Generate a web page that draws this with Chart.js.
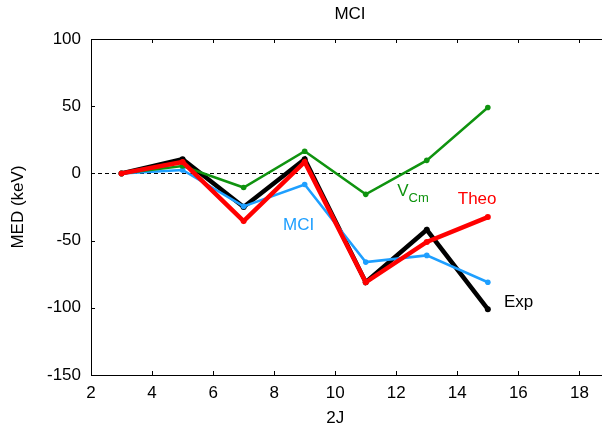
<!DOCTYPE html>
<html>
<head>
<meta charset="utf-8">
<script src="https://cdn.jsdelivr.net/npm/chart.js@4/dist/chart.umd.min.js"></script>
<style>
  html, body { margin: 0; padding: 0; background: #fff; }
  #wrap { width: 602px; height: 426px; position: relative; }
</style>
</head>
<body>
<div id="wrap"><canvas id="c" width="602" height="426"></canvas></div>
<script>
// ---- data ----
const categories = [3, 5, 7, 9, 11, 13, 15];          // 2J
const expValues  = [0, 10.5, -25, 10.5, -81, -42, -101];
const theoValues = [0, 8.5, -35.5, 8.5, -81, -51, -32.5];
const mciValues  = [0, 2.5, -24.5, -8.3, -66, -61, -81];
const vcmValues  = [0, 5.5, -10.5, 16.5, -15.6, 9.7, 49];
const xTickValues = [2, 4, 6, 8, 10, 12, 14, 16, 18];
const yTickValues = [-150, -100, -50, 0, 50, 100];
const chartTitle = 'MCI';
const xTitle = '2J';
const yTitle = 'MED (keV)';

const FONT = '"Liberation Sans", Arial, Helvetica, sans-serif';
const toXY = vals => categories.map((x, i) => ({ x: x, y: vals[i] }));

// series labels placed in data coordinates
const seriesLabels = [
  { text: 'MCI',  x: 8.80,  y: -38.6, color: '#1e9fff' },
  { text: 'Theo', x: 14.65, y: -19.6, color: '#ff0000' },
  { text: 'Exp',  x: 16.01, y: -96.1, color: '#000000' }
];
const vcmLabel = { main: 'V', sub: 'Cm', x: 12.03, y: -13.1, color: '#0f930f' };

const decorPlugin = {
  id: 'decor',
  beforeDatasetsDraw(chart) {
    const { ctx, chartArea: a, scales: { y } } = chart;
    const y0 = y.getPixelForValue(0);
    ctx.save();
    ctx.strokeStyle = '#000';
    ctx.lineWidth = 1;
    ctx.setLineDash([4, 3]);
    ctx.beginPath();
    ctx.moveTo(a.left, Math.round(y0) + 0.5);
    ctx.lineTo(a.right, Math.round(y0) + 0.5);
    ctx.stroke();
    ctx.restore();
  },
  afterDraw(chart) {
    const { ctx, chartArea: a, scales: { x, y } } = chart;
    ctx.save();
    ctx.strokeStyle = '#000';
    ctx.lineWidth = 1;
    ctx.setLineDash([]);
    // top border
    ctx.beginPath();
    ctx.moveTo(a.left, a.top + 0.5);
    ctx.lineTo(a.right, a.top + 0.5);
    ctx.stroke();
    const TL = 4;
    // inward ticks on bottom and top
    ctx.beginPath();
    x.ticks.forEach(t => {
      const px = Math.round(x.getPixelForValue(t.value)) + 0.5;
      ctx.moveTo(px, a.bottom); ctx.lineTo(px, a.bottom - TL);
      ctx.moveTo(px, a.top); ctx.lineTo(px, a.top + TL);
    });
    y.ticks.forEach(t => {
      const py = Math.round(y.getPixelForValue(t.value)) + 0.5;
      ctx.moveTo(a.left, py); ctx.lineTo(a.left + TL, py);
    });
    ctx.stroke();

    // series labels
    ctx.font = '17px ' + FONT;
    ctx.textAlign = 'center';
    ctx.textBaseline = 'middle';
    seriesLabels.forEach(l => {
      ctx.fillStyle = l.color;
      ctx.fillText(l.text, x.getPixelForValue(l.x), y.getPixelForValue(l.y));
    });
    // V_Cm
    ctx.textAlign = 'left';
    ctx.fillStyle = vcmLabel.color;
    const vx = x.getPixelForValue(vcmLabel.x);
    const vy = y.getPixelForValue(vcmLabel.y);
    ctx.font = '17px ' + FONT;
    ctx.fillText(vcmLabel.main, vx, vy);
    const vw = ctx.measureText(vcmLabel.main).width;
    ctx.font = '13px ' + FONT;
    ctx.fillText(vcmLabel.sub, vx + vw, vy + 7);

    // titles
    ctx.fillStyle = '#000';
    ctx.font = '17px ' + FONT;
    ctx.textAlign = 'center';
    ctx.fillText(chartTitle, (a.left + a.right) / 2 + 3.5, 14);
    ctx.fillText(xTitle, x.getPixelForValue(10), 418);
    ctx.translate(18, (a.top + a.bottom) / 2);
    ctx.rotate(-Math.PI / 2);
    ctx.fillText(yTitle, 0, 0);
    ctx.restore();
  }
};

new Chart(document.getElementById('c'), {
  type: 'line',
  data: {
    datasets: [
      { label: 'Theo', data: toXY(theoValues), borderColor: '#ff0000', backgroundColor: '#ff0000',
        borderWidth: 4.5, pointRadius: 3, pointBorderWidth: 0, order: 0 },
      { label: 'VCm', data: toXY(vcmValues), borderColor: '#0f930f', backgroundColor: '#0f930f',
        borderWidth: 2.5, pointRadius: 2.8, pointBorderWidth: 0, order: 1 },
      { label: 'MCI', data: toXY(mciValues), borderColor: '#1e9fff', backgroundColor: '#1e9fff',
        borderWidth: 2.5, pointRadius: 2.8, pointBorderWidth: 0, order: 2 },
      { label: 'Exp', data: toXY(expValues), borderColor: '#000000', backgroundColor: '#000000',
        borderWidth: 4.5, pointRadius: 3, pointBorderWidth: 0, order: 3 }
    ]
  },
  options: {
    responsive: false,
    animation: false,
    events: [],
    layout: { autoPadding: false, padding: { top: 39, right: 0, left: 0, bottom: 0 } },
    plugins: { legend: { display: false }, title: { display: false }, tooltip: { enabled: false } },
    elements: { line: { tension: 0, borderJoinStyle: 'miter', borderCapStyle: 'butt' } },
    scales: {
      x: {
        type: 'linear', min: 2, max: 18.74,
        afterBuildTicks: s => { s.ticks = xTickValues.map(v => ({ value: v })); },
        afterFit: s => { s.height = 51; s.paddingLeft = 0; s.paddingRight = 0; },
        grid: { display: false, drawTicks: false },
        border: { display: true, color: '#000', width: 1 },
        ticks: { color: '#000', font: { family: FONT, size: 17 }, padding: 8, maxRotation: 0 }
      },
      y: {
        type: 'linear', min: -150, max: 100,
        afterBuildTicks: s => { s.ticks = yTickValues.map(v => ({ value: v })); },
        afterFit: s => { s.width = 91; s.paddingTop = 0; s.paddingBottom = 0; },
        grid: { display: false, drawTicks: false },
        border: { display: true, color: '#000', width: 1 },
        ticks: { color: '#000', font: { family: FONT, size: 17 }, padding: 10 }
      }
    }
  },
  plugins: [decorPlugin]
});
</script>
</body>
</html>
